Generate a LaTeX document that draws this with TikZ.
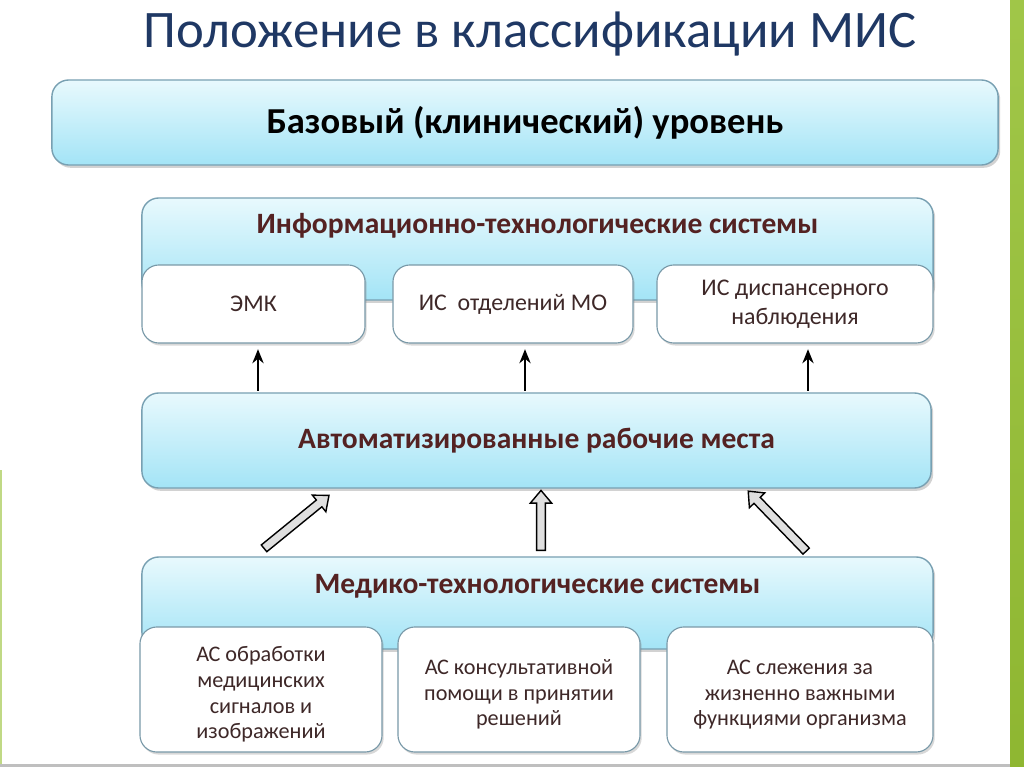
\documentclass[tikz,border=0pt]{standalone}
\usepackage{fontspec}
\setmainfont{Carlito}
\usepackage{tikz}
\usetikzlibrary{arrows.meta,%
                calc,%
                shadows,%
                shapes.arrows}

\definecolor{titleblue}{RGB}{31,56,100}
\definecolor{maroon}{RGB}{84,34,34}
\definecolor{subtext}{RGB}{62,40,40}
\definecolor{boxtop}{RGB}{232,249,253}
\definecolor{boxbottom}{RGB}{163,228,246}
\definecolor{boxline}{RGB}{120,160,178}
\definecolor{barGreen}{RGB}{150,192,52}

\tikzset{
  levelbox/.style={draw=boxline, line width=1pt, rounded corners=12pt,
    top color=boxtop, bottom color=boxbottom,
    drop shadow={opacity=0.35, shadow xshift=1.5pt, shadow yshift=-2pt}},
  subbox/.style={draw=boxline!80!gray, line width=0.8pt, rounded corners=12pt,
    fill=white, text=subtext, align=center,
    drop shadow={opacity=0.3, shadow xshift=1.2pt, shadow yshift=-1.8pt}},
  uptext/.style={font=\fontsize{17}{20.5}\selectfont},
  lowtext/.style={font=\fontsize{15.8}{18.2}\selectfont},
  headtext/.style={font=\bfseries\fontsize{21}{25}\selectfont, text=maroon},
  thinarr/.style={-{Stealth[length=10pt,width=8pt]}, line width=1.5pt, black},
  fatarr/.style={single arrow, draw=black, line width=1pt, fill=gray!25,
    inner sep=2.6pt, minimum width=14pt, single arrow head extend=4.5pt,
    single arrow tip angle=80}
}

% block arrow from one coordinate to another
\newcommand{\blockarr}[2]{%
  \path let \p1=($(#2)-(#1)$), \n1={atan2(\y1,\x1)}, \n2={veclen(\x1,\y1)} in
    node[fatarr, rotate=\n1, minimum height=\n2] at ($(#1)!0.5!(#2)$) {};}
\newcommand{\topgap}{\rule{0pt}{18pt}}

\begin{document}
\begin{tikzpicture}[x=0.025cm, y=-0.025cm]
    \useasboundingbox (0,0) rectangle (1024,767);
    \fill[white] (0,0) rectangle (1024,767);
    % side bars
    \shade[top color=barGreen!90!white, bottom color=barGreen!95!black] (1010,0) rectangle (1024,767);
    \fill[barGreen!60!white] (0,470) rectangle (2,767);
    \fill[gray!50] (0,764) rectangle (1010,767);

    \node[font=\fontsize{37.5}{42}\selectfont, text=titleblue] (title) at (530,34) {Положение в классификации МИС};

    % base level
    \node[levelbox, minimum width=23.65cm, minimum height=2.125cm,
          font=\bfseries\fontsize{26}{30}\selectfont] (base) at (525,122.5) {Базовый (клинический) уровень};

    % information-technology systems
    \node[levelbox, minimum width=19.775cm, minimum height=2.55cm] (it) at (537.5,249) {};
    \node[headtext] (ittitle) at (537.5,226) {Информационно-технологические системы};
    \node[subbox, uptext, minimum width=5.575cm, minimum height=1.95cm] (emk) at (253.5,304) {ЭМК};
    \node[subbox, uptext, minimum width=6cm, minimum height=1.95cm] (dept) at (513,304) {ИС\ \ отделений МО};
    \node[subbox, uptext, minimum width=6.9cm, minimum height=1.95cm] (disp) at (795,304) {ИС диспансерного\\наблюдения};

    % workstations
    \node[levelbox, minimum width=19.725cm, minimum height=2.375cm, headtext] (arm) at (536.5,440.5) {Автоматизированные рабочие места};

    \coordinate (t1) at (258,0);
    \coordinate (t2) at (525,0);
    \coordinate (t3) at (808,0);
    \draw[thinarr, shorten <=1pt, shorten >=4pt] (arm.north -| t1) -- (emk.south -| t1);
    \draw[thinarr, shorten <=1pt, shorten >=4pt] (arm.north -| t2) -- (dept.south -| t2);
    \draw[thinarr, shorten <=1pt, shorten >=4pt] (arm.north -| t3) -- (disp.south -| t3);

    % medical-technology systems
    \node[levelbox, minimum width=19.775cm, minimum height=2.3cm] (med) at (537.5,603) {};
    \node[headtext] (medtitle) at (537.5,586) {Медико-технологические системы};
    \node[subbox, lowtext, minimum width=6.05cm, minimum height=3.125cm] (signal) at (261,689.5) {\topgap АС обработки\\медицинских\\сигналов и\\изображений};
    \node[subbox, lowtext, minimum width=6.05cm, minimum height=3.125cm] (consult) at (519,689.5) {\topgap АС консультативной\\помощи в принятии\\решений};
    \node[subbox, lowtext, minimum width=6.65cm, minimum height=3.125cm] (vital) at (800,689.5) {\topgap АС слежения за\\жизненно важными\\функциями организма};

    % block arrows
    \coordinate (a1s) at (262,550);
    \coordinate (a1t) at (327,497);
    \coordinate (a2s) at (541,553);
    \coordinate (a2t) at (541,493);
    \coordinate (a3s) at (808,553);
    \coordinate (a3t) at (750,493);
    \blockarr{a1s}{a1t}
    \blockarr{a2s}{a2t}
    \blockarr{a3s}{a3t}
\end{tikzpicture}
\end{document}
